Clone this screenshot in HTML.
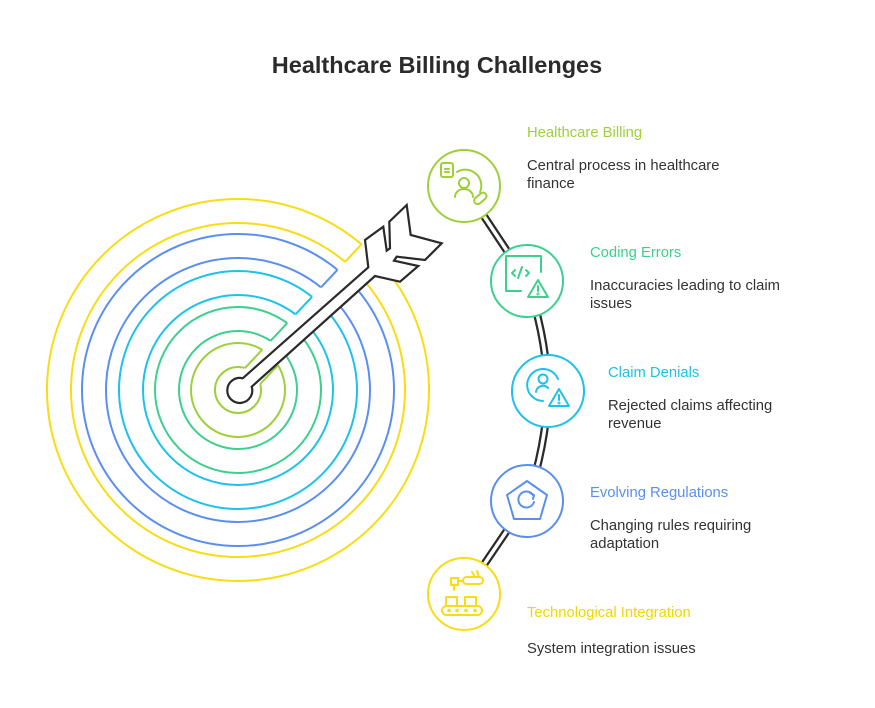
<!DOCTYPE html>
<html><head><meta charset="utf-8"><style>
html,body{margin:0;padding:0;background:#fff;}
svg{display:block;}
text{font-family:"Liberation Sans",sans-serif;}
</style></head><body>
<svg width="875" height="708" viewBox="0 0 875 708" xmlns="http://www.w3.org/2000/svg">
<defs>
<mask id="m">
<rect width="875" height="708" fill="#fff"/>
<polygon points="241,372.2 402.2,201.1 418.2,216.2 257,387.3" fill="#000"/>
</mask>
</defs>
<text x="437" y="73" text-anchor="middle" font-size="23.5" font-weight="bold" fill="#2b2b2b">Healthcare Billing Challenges</text>

<g fill="none" stroke-width="2" mask="url(#m)">
<circle cx="238" cy="390" r="23" stroke="#9fcf3a"/><circle cx="238" cy="390" r="47" stroke="#9fcf3a"/>
<circle cx="238" cy="390" r="59" stroke="#3dd08d"/><circle cx="238" cy="390" r="83" stroke="#3dd08d"/>
<circle cx="238" cy="390" r="95" stroke="#1cc2ea"/><circle cx="238" cy="390" r="119" stroke="#1cc2ea"/>
<circle cx="238" cy="390" r="132" stroke="#5a8ff0"/><circle cx="238" cy="390" r="156" stroke="#5a8ff0"/>
<circle cx="238" cy="390" r="167" stroke="#f7dd12"/><circle cx="238" cy="390" r="191" stroke="#f7dd12"/>
</g>
<g stroke-width="2">
<line x1="244.9" y1="368.1" x2="262.2" y2="349.7" stroke="#9fcf3a"/><line x1="260.2" y1="384" x2="277.9" y2="365.2" stroke="#9fcf3a"/>
<line x1="270.6" y1="340.8" x2="287.2" y2="323.1" stroke="#3dd08d"/><line x1="286.4" y1="356.1" x2="303.1" y2="338.5" stroke="#3dd08d"/>
<line x1="295.5" y1="314.3" x2="312.1" y2="296.8" stroke="#1cc2ea"/><line x1="311.4" y1="329.6" x2="328" y2="312" stroke="#1cc2ea"/>
<line x1="321" y1="287.3" x2="337.5" y2="269.8" stroke="#5a8ff0"/><line x1="337" y1="302.5" x2="353.4" y2="285" stroke="#5a8ff0"/>
<line x1="345.1" y1="261.8" x2="361.5" y2="244.3" stroke="#f7dd12"/><line x1="361" y1="276.9" x2="377.5" y2="259.5" stroke="#f7dd12"/>
</g>
<path d="M242.7,378.3 L368.3,267.3 L365,240 L383.3,226.7 L386.7,250.7 L390,248.3 L389.3,221.7 L406.7,205 L410.7,235 L441.7,243.3 L425,260 L396.7,256.7 L394,260.7 L418.3,266 L400,281.7 L375,276 L251.7,386.7 A12.5,12.5 0 1 1 242.7,378.3 Z" fill="#fff" stroke="#2a2a2a" stroke-width="2.2"/>

<g fill="none">
<g stroke="#2a2a2a" stroke-width="8">
<path d="M464,186 L527,281"/><path d="M527,281 Q546,335 548,391"/><path d="M548,391 Q546,447 527,501"/><path d="M527,501 L464,594"/>
</g>
<g stroke="#fff" stroke-width="3.5">
<path d="M464,186 L527,281"/><path d="M527,281 Q546,335 548,391"/><path d="M548,391 Q546,447 527,501"/><path d="M527,501 L464,594"/>
</g>
</g>
<g fill="#fff" stroke-width="2">
<circle cx="464" cy="186" r="36" stroke="#9fcf3a"/>
<circle cx="527" cy="281" r="36" stroke="#3dd08d"/>
<circle cx="548" cy="391" r="36" stroke="#1cc2ea"/>
<circle cx="527" cy="501" r="36" stroke="#5a8ff0"/>
<circle cx="464" cy="594" r="36" stroke="#f7dd12"/>
</g>
<g fill="none" stroke="#9fcf3a" stroke-width="2" stroke-linecap="round" stroke-linejoin="round">
<rect x="441" y="163" width="12" height="14" rx="2"/><line x1="445" y1="169" x2="449" y2="169"/><line x1="445" y1="172" x2="449" y2="172"/>
<circle cx="464" cy="183" r="5"/><path d="M455,197 a9,8 0 0 1 18,0"/>
<path d="M457,172 a16,16 0 0 1 23,20"/>
<rect x="473" y="195" width="14" height="7" rx="3.5" transform="rotate(-40 480 198)"/>
</g>
<g fill="none" stroke="#3dd08d" stroke-width="2" stroke-linecap="round" stroke-linejoin="round">
<path d="M521,291 H506 V256 H541 V272"/>
<path d="M515,270 l-3,3 3,3 M522,267 l-4,11 M526,270 l3,3 -3,3"/>
<path d="M538,280 l-10,17 h20 z"/><line x1="538" y1="286" x2="538" y2="291"/><circle cx="538" cy="294" r="0.5"/>
</g>
<g fill="none" stroke="#1cc2ea" stroke-width="2" stroke-linecap="round" stroke-linejoin="round">
<circle cx="543" cy="379" r="4.5"/><path d="M536,392 a7,7 0 0 1 12,-4"/>
<path d="M543,401 a16,16 0 1 1 15,-22"/>
<path d="M559,389 l-10,17 h20 z"/><line x1="559" y1="395" x2="559" y2="400"/><circle cx="559" cy="403" r="0.5"/>
</g>
<g fill="none" stroke="#5a8ff0" stroke-width="2" stroke-linecap="round" stroke-linejoin="round">
<path d="M527,481 L547,495 L540,519 L514,519 L507,495 Z"/>
<path d="M533,495 a8,8 0 1 0 1,7"/><path d="M530,493 l4,2 -1,4"/>
</g>
<g fill="none" stroke="#f7dd12" stroke-width="2" stroke-linecap="round" stroke-linejoin="round">
<rect x="451" y="578" width="7" height="7"/><line x1="454" y1="585" x2="454" y2="590"/><line x1="458" y1="581" x2="463" y2="581"/>
<rect x="463" y="577" width="20" height="7" rx="3.5"/><path d="M475,577 l-3,-5 M479,577 l-2,-6"/>
<rect x="446" y="597" width="11" height="9"/><rect x="465" y="597" width="11" height="9"/>
<rect x="442" y="606" width="40" height="9" rx="4.5"/>
<circle cx="449" cy="610.5" r="0.8"/><circle cx="457" cy="610.5" r="0.8"/><circle cx="466" cy="610.5" r="0.8"/><circle cx="475" cy="610.5" r="0.8"/>
</g>
<g font-size="14.8">
<text x="527" y="137" fill="#9fcf3a">Healthcare Billing</text>
<text x="527" y="170" fill="#333">Central process in healthcare</text>
<text x="527" y="188" fill="#333">finance</text>
<text x="590" y="257" fill="#3dd08d">Coding Errors</text>
<text x="590" y="290" fill="#333">Inaccuracies leading to claim</text>
<text x="590" y="308" fill="#333">issues</text>
<text x="608" y="377" fill="#1cc2ea">Claim Denials</text>
<text x="608" y="410" fill="#333">Rejected claims affecting</text>
<text x="608" y="428" fill="#333">revenue</text>
<text x="590" y="497" fill="#5a8ff0">Evolving Regulations</text>
<text x="590" y="530" fill="#333">Changing rules requiring</text>
<text x="590" y="548" fill="#333">adaptation</text>
<text x="527" y="617" fill="#f2d600">Technological Integration</text>
<text x="527" y="653" fill="#333">System integration issues</text>
</g>
</svg>
</body></html>
